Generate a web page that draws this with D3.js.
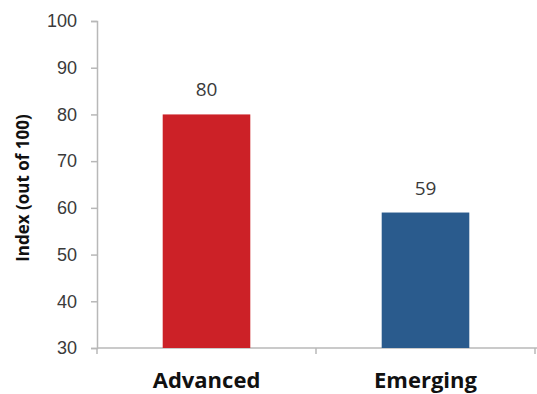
<!DOCTYPE html>
<html>
<head>
<meta charset="utf-8">
<script src="https://cdn.jsdelivr.net/npm/d3@7"></script>
<style>
  body { margin: 0; background: #fff; }
  svg { display: block; font-family: "Open Sans", "Liberation Sans", sans-serif; }
</style>
</head>
<body>
<svg id="chart" width="537" height="394"></svg>
<script>
const categories = ['Advanced', 'Emerging']
const values = [80, 59]
const barColors = ['#cc2127', '#2a5b8d']
const yTicks = [30, 40, 50, 60, 70, 80, 90, 100]

const margin = { top: 21, right: 2, bottom: 46, left: 97 }
const width = 537
const height = 394

const svg = d3.select('#chart')

const x = d3.scaleBand()
  .domain(categories)
  .range([margin.left, width - margin.right])
  .paddingInner(0.6)
  .paddingOuter(0.3)

const y = d3.scaleLinear()
  .domain([30, 100])
  .range([height - margin.bottom, margin.top])

// y axis
const yAxis = svg.append('g')
  .attr('transform', `translate(${margin.left},0)`)
  .call(d3.axisLeft(y).tickValues(yTicks).tickSize(6).tickPadding(14))
yAxis.select('.domain').attr('stroke', '#b8b8b8').attr('stroke-width', 1.5)
yAxis.selectAll('.tick line').attr('stroke', '#b8b8b8').attr('stroke-width', 1.5)
yAxis.selectAll('.tick text')
  .attr('fill', '#3a3a3a')
  .style('font-size', '18px')

// x axis line with ticks at category boundaries
const xBase = y(30)
const xLine = svg.append('g')
xLine.append('line')
  .attr('x1', margin.left).attr('x2', width)
  .attr('y1', xBase).attr('y2', xBase)
  .attr('stroke', '#b8b8b8').attr('stroke-width', 1.5)
const edges = [margin.left, (margin.left + width - margin.right) / 2, width - margin.right]
xLine.selectAll('line.tk')
  .data(edges)
  .enter().append('line')
  .attr('class', 'tk')
  .attr('x1', d => d).attr('x2', d => d)
  .attr('y1', xBase).attr('y2', xBase + 6)
  .attr('stroke', '#b8b8b8').attr('stroke-width', 1.5)

// bars
svg.append('g')
  .selectAll('rect')
  .data(values)
  .enter().append('rect')
  .attr('x', (d, i) => x(categories[i]))
  .attr('width', x.bandwidth())
  .attr('y', d => y(d))
  .attr('height', d => y(30) - y(d))
  .attr('fill', (d, i) => barColors[i])

// value labels
svg.append('g')
  .selectAll('text')
  .data(values)
  .enter().append('text')
  .attr('x', (d, i) => x(categories[i]) + x.bandwidth() / 2)
  .attr('y', d => y(d) - 18)
  .attr('text-anchor', 'middle')
  .attr('fill', '#3a3a3a')
  .style('font-size', '19px')
  .text(d => d)

// category labels
svg.append('g')
  .selectAll('text')
  .data(categories)
  .enter().append('text')
  .attr('x', d => x(d) + x.bandwidth() / 2)
  .attr('y', 388)
  .attr('text-anchor', 'middle')
  .attr('fill', '#111')
  .style('font-size', '22px')
  .style('font-weight', 'bold')
  .text(d => d)

// y title
svg.append('text')
  .attr('transform', 'translate(29,188) rotate(-90)')
  .attr('text-anchor', 'middle')
  .attr('fill', '#111')
  .style('font-size', '17px')
  .style('font-weight', 'bold')
  .text('Index (out of 100)')
</script>
</body>
</html>
